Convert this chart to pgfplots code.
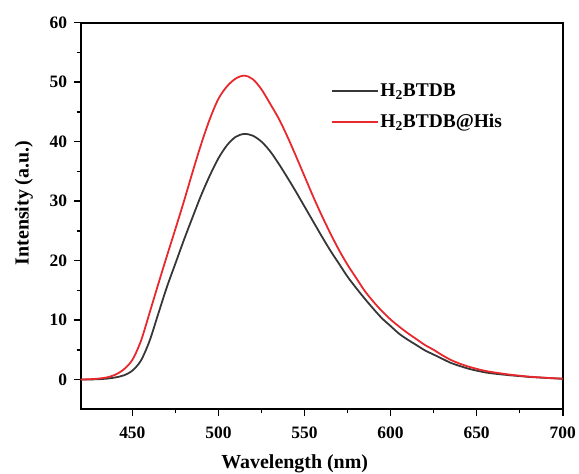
\documentclass[border=0pt]{standalone}
\usepackage{fontspec}
\setmainfont{Liberation Serif}
\usepackage{pgfplots}
\pgfplotsset{compat=1.18}
\definecolor{cblack}{RGB}{55,55,55}
\definecolor{cred}{RGB}{232,40,44}
\begin{document}
\begin{tikzpicture}
\begin{axis}[
  scale only axis,
  width=482bp, height=386.6bp,
  xmin=420, xmax=700, ymin=-5, ymax=60,
  xtick={450,500,550,600,650,700},
  ytick={0,10,20,30,40,50,60},
  minor x tick num=1, minor y tick num=1,
  tick align=outside,
  xtick pos=bottom, ytick pos=left,
  major tick length=7bp, minor tick length=4bp,
  tick style={line width=1.6pt, black},
  axis line style={line width=2pt},
  /pgf/number format/assume math mode=true,
  tick label style={font=\fontsize{17.5}{20}\selectfont\bfseries},
  xticklabel style={yshift=-7bp},
  yticklabel style={xshift=-3bp},
  label style={font=\fontsize{20}{23}\selectfont\bfseries},
  xlabel={Wavelength (nm)},
  ylabel={Intensity (a.u.)},
  xlabel style={yshift=-9bp, xshift=-27bp},
  ylabel style={yshift=10bp, xshift=13bp},
  legend style={draw=none, fill=none, at={(rel axis cs:0.512,0.852)}, anchor=north west,
    font=\fontsize{19.5}{22}\selectfont\bfseries, row sep=12bp},
  legend cell align=left,
  legend image code/.code={\draw[#1] (0bp,0bp) -- (46bp,0bp);},
]
\addplot[cblack, line width=1.8pt, smooth] coordinates {
(420,0.0) (425,0.02) (430,0.05) (435,0.15) (440,0.35) (445,0.7) (450,1.5) (455,3.2)
(460,6.5) (465,11.0) (470,15.5) (475,19.5) (480,23.5) (485,27.3) (490,31.0) (495,34.3)
(500,37.2) (505,39.4) (510,40.8) (515,41.3) (520,41.0) (525,40.0) (530,38.4) (535,36.3)
(540,34.0) (545,31.6) (550,29.1) (555,26.6) (560,24.1) (565,21.7) (570,19.5) (575,17.3)
(580,15.4) (585,13.6) (590,11.9) (595,10.3) (600,9.0) (605,7.7) (610,6.7) (615,5.8)
(620,4.9) (625,4.2) (630,3.5) (635,2.8) (640,2.3) (645,1.85) (650,1.5) (655,1.2)
(660,1.0) (665,0.85) (670,0.7) (675,0.58) (680,0.45) (685,0.36) (690,0.28) (695,0.2) (700,0.13)
};
\addlegendentry{H\textsubscript{2}BTDB}
\addplot[cred, line width=1.8pt, smooth] coordinates {
(420,0.0) (425,0.05) (430,0.15) (435,0.35) (440,0.8) (445,1.7) (450,3.3) (455,6.5)
(460,11.2) (465,16.0) (470,20.7) (475,25.3) (480,30.0) (485,34.9) (490,39.6) (495,43.8)
(500,47.2) (505,49.3) (510,50.6) (515,51.1) (520,50.5) (525,48.8) (530,46.4) (535,43.9)
(540,40.9) (545,37.6) (550,34.2) (555,30.8) (560,27.6) (565,24.6) (570,21.8) (575,19.3)
(580,17.1) (585,14.9) (590,13.1) (595,11.5) (600,10.1) (605,8.9) (610,7.8) (615,6.8)
(620,5.8) (625,5.0) (630,4.1) (635,3.3) (640,2.7) (645,2.2) (650,1.8) (655,1.45)
(660,1.2) (665,1.0) (670,0.8) (675,0.65) (680,0.5) (685,0.4) (690,0.3) (695,0.22) (700,0.15)
};
\addlegendentry{H\textsubscript{2}BTDB@His}
\end{axis}
\pgfresetboundingbox
\path ([xshift=-80.7bp, yshift=-64.7bp]current axis.south west) rectangle ([xshift=16.3bp, yshift=22.7bp]current axis.north east);
\end{tikzpicture}
\end{document}
